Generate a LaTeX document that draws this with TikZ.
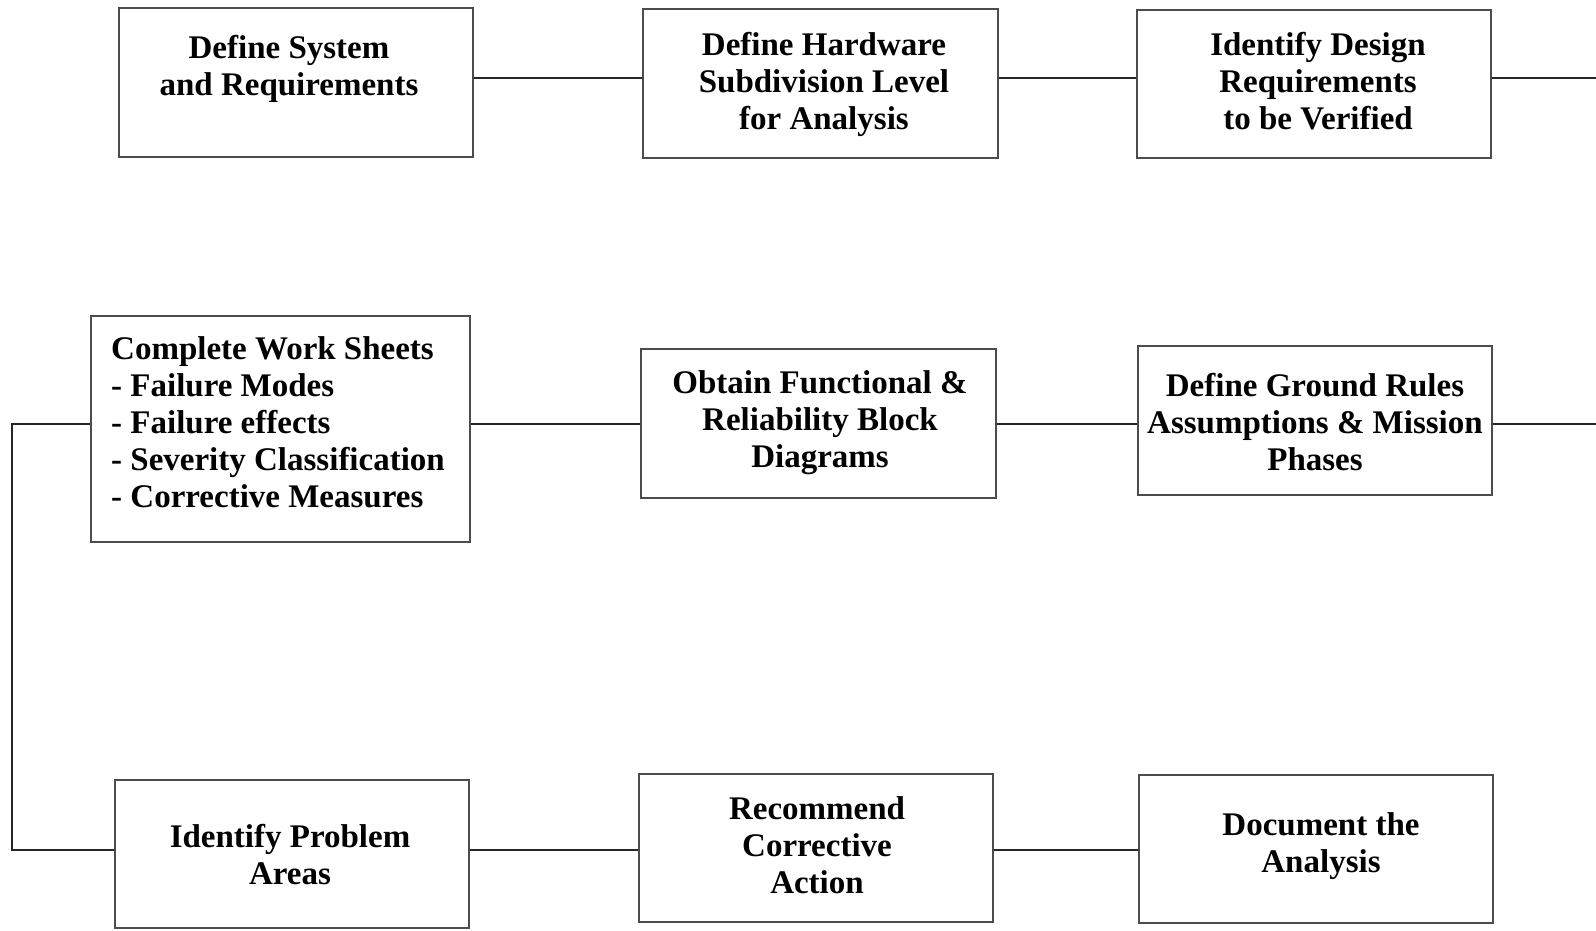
\documentclass[tikz,border=0pt]{standalone}
\usepackage{fontspec}
\setmainfont{Liberation Serif}
\begin{document}
\begin{tikzpicture}[x=1pt,y=-1pt,
  box/.style={draw=black!70,line width=1.1pt,inner sep=0pt},
  txt/.style={font=\fontsize{33}{37}\selectfont\bfseries,align=center,inner sep=0pt},
  conn/.style={draw=black!85,line width=1.1pt}]
\useasboundingbox[fill=white] (0,0) rectangle (1596,931);
% boxes
\node[box,minimum width=354pt,minimum height=149pt] (b1) at (296,82.5) {};
\node[box,minimum width=355pt,minimum height=149pt] (b2) at (820.5,83.5) {};
\node[box,minimum width=354pt,minimum height=148pt] (b3) at (1314,84) {};
\node[box,minimum width=379pt,minimum height=226pt] (b4) at (280.5,429) {};
\node[box,minimum width=355pt,minimum height=149pt] (b5) at (818.5,423.5) {};
\node[box,minimum width=354pt,minimum height=149pt] (b6) at (1315,420.5) {};
\node[box,minimum width=354pt,minimum height=148pt] (b7) at (292,854) {};
\node[box,minimum width=354pt,minimum height=148pt] (b8) at (816,848) {};
\node[box,minimum width=354pt,minimum height=148pt] (b9) at (1316,849) {};
% texts
\node[txt] (t1) at (289,69) {Define System\\and Requirements};
\node[txt] (t2) at (824,84) {Define Hardware\\Subdivision Level\\for Analysis};
\node[txt] (t3) at (1318,81) {Identify Design\\Requirements\\to be Verified};
\node[txt,align=left,anchor=west] (t4) at (111,422) {Complete Work Sheets\\- Failure Modes\\- Failure effects\\- Severity Classification\\- Corrective Measures};
\node[txt] (t5) at (820,423) {Obtain Functional \&\\Reliability Block\\Diagrams};
\node[txt] (t6) at (1315,422) {Define Ground Rules\\Assumptions \& Mission\\Phases};
\node[txt] (t7) at (290,855) {Identify Problem\\Areas};
\node[txt] (t8) at (817,845) {Recommend\\Corrective\\Action};
\node[txt] (t9) at (1321,846) {Document the\\Analysis};
% connector end points
\coordinate (r1) at (1596,78);
\coordinate (r2) at (1596,424);
\coordinate (l1) at (12,424);
\coordinate (l2) at (12,850);
% connectors
\draw[conn] (b1.east |- 0,78) -- (b2.west |- 0,78);
\draw[conn] (b2.east |- 0,78) -- (b3.west |- 0,78);
\draw[conn] (b3.east |- r1) -- (r1);
\draw[conn] (b4.east |- 0,424) -- (b5.west |- 0,424);
\draw[conn] (b5.east |- 0,424) -- (b6.west |- 0,424);
\draw[conn] (b6.east |- r2) -- (r2);
\draw[conn] (b4.west |- l1) -- (l1) -- (l2) -- (b7.west |- l2);
\draw[conn] (b7.east |- 0,850) -- (b8.west |- 0,850);
\draw[conn] (b8.east |- 0,850) -- (b9.west |- 0,850);
\end{tikzpicture}
\end{document}
